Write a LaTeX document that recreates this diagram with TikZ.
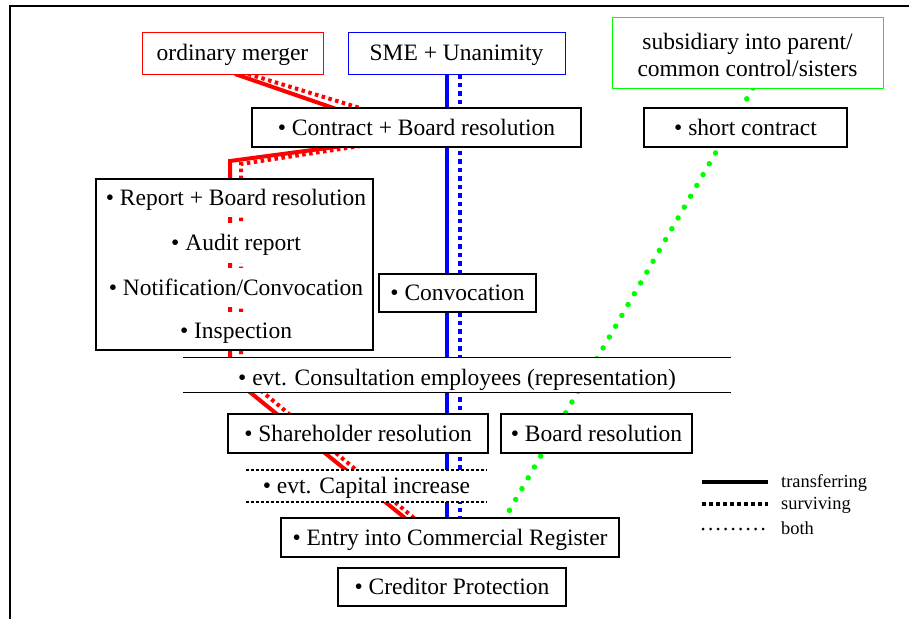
\documentclass[tikz,border=0pt]{standalone}
\usepackage{fontspec}
\setmainfont{Liberation Serif}
\usetikzlibrary{calc}
\begin{document}
\begin{tikzpicture}[x=1pt,y=-1pt,
  txt/.style={font=\fontsize{23.5}{28}\selectfont, text height=19pt, text depth=4pt, inner sep=0pt},
  box/.style={txt, draw=black, line width=1.1pt, fill=white},
  redbox/.style={box, draw=red, line width=1pt},
  bluebox/.style={box, draw=blue, line width=1pt},
  greenbox/.style={box, draw=green, line width=1pt},
  wtxt/.style={txt, fill=white},
  legtxt/.style={font=\fontsize{18.4}{22}\selectfont, inner sep=0pt, anchor=base west},
  rsolid/.style={red, line width=4pt},
  rdot/.style={red, line width=4pt, dash pattern=on 3.5pt off 3.5pt},
  bsolid/.style={blue, line width=4pt},
  bdot/.style={blue, line width=4pt, dash pattern=on 4.5pt off 4pt},
  gdot/.style={green, line width=5.5pt, line cap=round, dash pattern=on 0pt off 12.5pt},
  capdot/.style={black, line width=2.4pt, dash pattern=on 2.7pt off 2.3pt},
  lgtrans/.style={black, line width=3.3pt},
  lgsurv/.style={black, line width=3.5pt, dash pattern=on 3.5pt off 3.5pt},
  lgboth/.style={black, line width=3pt, line cap=round, dash pattern=on 0pt off 7.5pt}
]
\useasboundingbox (0,0) rectangle (909,619);
% frame
\draw[line width=2pt] (10,619) -- (10,6) -- (909,6);

% anchor points of the boxes (the boxes are drawn over the connectors)
\coordinate (omS) at (232.5,74);
\coordinate (smeS) at (456.5,74);
\coordinate (subS) at (747.5,88);
\coordinate (entN) at (450,518);

% connectors (drawn beneath boxes)
\draw[rsolid] ($(omS)+(2.5,0)$) -- (345,112) -- (350,145) -- (230,161) -- (230,376) -- ($(entN)+(-45,0)$);
\draw[rdot] ($(omS)+(15.5,0)$) -- (360,108) -- (360,146) -- (241,164) -- (241,374) -- ($(entN)+(-36,0)$);
\draw[bsolid] ($(smeS)+(-9.5,0)$) coordinate (b1) -- (b1 |- entN);
\draw[bdot] ($(smeS)+(3,0)$) coordinate (b2) -- (b2 |- entN);
\draw[gdot] ($(subS)+(5.5,0)$) -- ($(entN)+(55,0)$);

% top boxes
\node[redbox, minimum width=181, minimum height=42] (om) at (232.5,53) {ordinary merger};
\node[bluebox, minimum width=217, minimum height=42] (sme) at (456.5,53) {SME + Unanimity};
\node[greenbox, minimum width=271, minimum height=71] (sub) at (747.5,52.5) {};
\node[font=\fontsize{23.5}{27.5}\selectfont, align=center, inner sep=0pt] (subtext) at (747.5,55) {subsidiary into parent/\\common control/sisters};

\node[box, minimum width=329, minimum height=39] (contract) at (416.5,127.5) {• Contract + Board resolution};
\node[box, minimum width=203, minimum height=39] (short) at (745.5,127.5) {• short contract};

% big box of ordinary merger steps
\node[wtxt, minimum width=150, minimum height=38] (rep) at (236,198) {• Report + Board resolution};
\node[wtxt, minimum width=150, minimum height=40] (aud) at (236,243) {• Audit report};
\node[wtxt, minimum width=150, minimum height=39] (notif) at (236,287.5) {• Notification/Convocation};
\node[wtxt, minimum width=150, minimum height=38] (insp) at (236,331) {• Inspection};
\node[draw=black, line width=1.1pt, minimum width=277, minimum height=171, inner sep=0pt] (merg) at (234.5,264.5) {};

\node[box, minimum width=157, minimum height=38] (conv) at (457.5,293) {• Convocation};

% band
\node[txt, fill=white, minimum width=548, minimum height=34, text height=23pt, text depth=2pt] (band) at (457,375) {• evt. Consultation employees (representation)};
\draw[line width=1.1pt] (band.north west) -- (band.north east);
\draw[line width=1.1pt] (band.south west) -- (band.south east);

\node[box, minimum width=260, minimum height=39] (share) at (358,433.5) {• Shareholder resolution};
\node[box, minimum width=191, minimum height=39] (board) at (596.5,433.5) {• Board resolution};

\node[wtxt, minimum width=241, minimum height=32] (cap) at (366.5,486) {• evt. Capital increase};
\draw[capdot] (cap.north west) -- (cap.north east);
\draw[capdot] (cap.south west) -- (cap.south east);

\node[box, minimum width=338, minimum height=39] (entry) at (450,537.5) {• Entry into Commercial Register};
\node[box, minimum width=228, minimum height=38] (cred) at (452,587) {• Creditor Protection};

% legend
\coordinate (l1a) at (702,482); \coordinate (l1b) at (768,482);
\coordinate (l2a) at (702,504); \coordinate (l2b) at (768,504);
\coordinate (l3a) at (703,529); \coordinate (l3b) at (768,529);
\draw[lgtrans] (l1a) -- (l1b);
\draw[lgsurv] (l2a) -- (l2b);
\draw[lgboth] (l3a) -- (l3b);
\node[legtxt] (lt1) at (781,487) {transferring};
\node[legtxt] (lt2) at (781,509.5) {surviving};
\node[legtxt] (lt3) at (781,534) {both};
\end{tikzpicture}
\end{document}
